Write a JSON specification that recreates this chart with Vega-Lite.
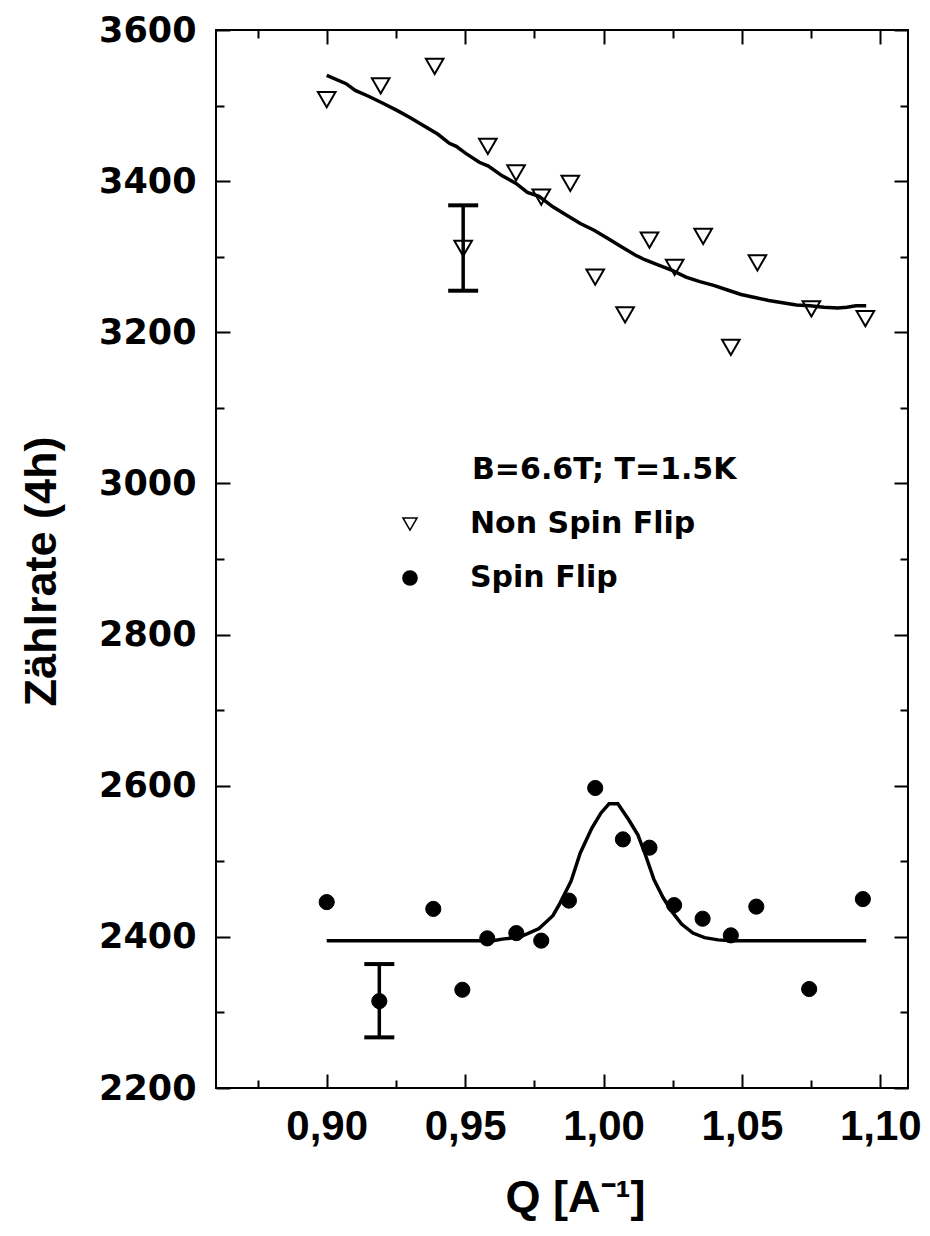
{
  "$schema": "https://vega.github.io/schema/vega-lite/v6.json",
  "width": 692,
  "height": 1058,
  "autosize": {"type": "none"},
  "padding": {"left": 216, "top": 30, "right": 22, "bottom": 148},
  "background": "white",
  "config": {
    "view": {"stroke": "black", "strokeWidth": 2},
    "axis": {
      "domain": false,
      "grid": false,
      "tickColor": "black",
      "tickWidth": 2,
      "labelColor": "black",
      "labelFontWeight": "bold",
      "titleColor": "black",
      "titleFontWeight": "bold",
      "labelFlush": false,
      "labelOverlap": false
    },
    "legend": {
      "orient": "none",
      "legendX": 256,
      "legendY": 425,
      "titleFont": "DejaVu Sans",
      "titleFontSize": 30,
      "titleFontWeight": "bold",
      "titleColor": "black",
      "titleLimit": 500,
      "titlePadding": 24,
      "labelFont": "DejaVu Sans",
      "labelFontSize": 30,
      "labelFontWeight": "bold",
      "labelColor": "black",
      "labelLimit": 500,
      "labelOffset": 45,
      "symbolOffset": -77,
      "symbolSize": 200,
      "symbolStrokeWidth": 1.5,
      "rowPadding": 24,
      "padding": 0
    }
  },
  "datasets": {
    "points": [
      {"q": 0.9000, "rate": 3508, "series": "Non Spin Flip"},
      {"q": 0.9195, "rate": 3526, "series": "Non Spin Flip"},
      {"q": 0.9390, "rate": 3552, "series": "Non Spin Flip"},
      {"q": 0.9493, "rate": 3311, "series": "Non Spin Flip"},
      {"q": 0.9582, "rate": 3446, "series": "Non Spin Flip"},
      {"q": 0.9684, "rate": 3411, "series": "Non Spin Flip"},
      {"q": 0.9775, "rate": 3379, "series": "Non Spin Flip"},
      {"q": 0.9880, "rate": 3397, "series": "Non Spin Flip"},
      {"q": 0.9970, "rate": 3273, "series": "Non Spin Flip"},
      {"q": 1.0078, "rate": 3223, "series": "Non Spin Flip"},
      {"q": 1.0166, "rate": 3322, "series": "Non Spin Flip"},
      {"q": 1.0257, "rate": 3286, "series": "Non Spin Flip"},
      {"q": 1.0360, "rate": 3327, "series": "Non Spin Flip"},
      {"q": 1.0460, "rate": 3180, "series": "Non Spin Flip"},
      {"q": 1.0556, "rate": 3292, "series": "Non Spin Flip"},
      {"q": 1.0751, "rate": 3231, "series": "Non Spin Flip"},
      {"q": 1.0946, "rate": 3218, "series": "Non Spin Flip"},
      {"q": 0.9000, "rate": 2446, "series": "Spin Flip"},
      {"q": 0.9190, "rate": 2315, "series": "Spin Flip"},
      {"q": 0.9385, "rate": 2437, "series": "Spin Flip"},
      {"q": 0.9490, "rate": 2330, "series": "Spin Flip"},
      {"q": 0.9580, "rate": 2398, "series": "Spin Flip"},
      {"q": 0.9685, "rate": 2405, "series": "Spin Flip"},
      {"q": 0.9775, "rate": 2395, "series": "Spin Flip"},
      {"q": 0.9875, "rate": 2448, "series": "Spin Flip"},
      {"q": 0.9970, "rate": 2597, "series": "Spin Flip"},
      {"q": 1.0070, "rate": 2529, "series": "Spin Flip"},
      {"q": 1.0166, "rate": 2518, "series": "Spin Flip"},
      {"q": 1.0255, "rate": 2442, "series": "Spin Flip"},
      {"q": 1.0358, "rate": 2424, "series": "Spin Flip"},
      {"q": 1.0460, "rate": 2402, "series": "Spin Flip"},
      {"q": 1.0552, "rate": 2440, "series": "Spin Flip"},
      {"q": 1.0743, "rate": 2331, "series": "Spin Flip"},
      {"q": 1.0937, "rate": 2450, "series": "Spin Flip"}
    ],
    "fits": [
      {"q": 0.9000, "rate": 3540, "series": "Non Spin Flip"},
      {"q": 0.9070, "rate": 3529, "series": "Non Spin Flip"},
      {"q": 0.9103, "rate": 3520, "series": "Non Spin Flip"},
      {"q": 0.9153, "rate": 3512, "series": "Non Spin Flip"},
      {"q": 0.9203, "rate": 3503, "series": "Non Spin Flip"},
      {"q": 0.9252, "rate": 3494, "series": "Non Spin Flip"},
      {"q": 0.9302, "rate": 3484, "series": "Non Spin Flip"},
      {"q": 0.9352, "rate": 3473, "series": "Non Spin Flip"},
      {"q": 0.9402, "rate": 3462, "series": "Non Spin Flip"},
      {"q": 0.9443, "rate": 3450, "series": "Non Spin Flip"},
      {"q": 0.9468, "rate": 3446, "series": "Non Spin Flip"},
      {"q": 0.9501, "rate": 3437, "series": "Non Spin Flip"},
      {"q": 0.9551, "rate": 3425, "series": "Non Spin Flip"},
      {"q": 0.9584, "rate": 3420, "series": "Non Spin Flip"},
      {"q": 0.9634, "rate": 3407, "series": "Non Spin Flip"},
      {"q": 0.9684, "rate": 3397, "series": "Non Spin Flip"},
      {"q": 0.9725, "rate": 3385, "series": "Non Spin Flip"},
      {"q": 0.9767, "rate": 3380, "series": "Non Spin Flip"},
      {"q": 0.9817, "rate": 3366, "series": "Non Spin Flip"},
      {"q": 0.9867, "rate": 3355, "series": "Non Spin Flip"},
      {"q": 0.9916, "rate": 3344, "series": "Non Spin Flip"},
      {"q": 0.9966, "rate": 3335, "series": "Non Spin Flip"},
      {"q": 1.0016, "rate": 3324, "series": "Non Spin Flip"},
      {"q": 1.0066, "rate": 3313, "series": "Non Spin Flip"},
      {"q": 1.0116, "rate": 3302, "series": "Non Spin Flip"},
      {"q": 1.0149, "rate": 3296, "series": "Non Spin Flip"},
      {"q": 1.0199, "rate": 3289, "series": "Non Spin Flip"},
      {"q": 1.0248, "rate": 3282, "series": "Non Spin Flip"},
      {"q": 1.0298, "rate": 3273, "series": "Non Spin Flip"},
      {"q": 1.0348, "rate": 3267, "series": "Non Spin Flip"},
      {"q": 1.0398, "rate": 3262, "series": "Non Spin Flip"},
      {"q": 1.0448, "rate": 3256, "series": "Non Spin Flip"},
      {"q": 1.0497, "rate": 3250, "series": "Non Spin Flip"},
      {"q": 1.0547, "rate": 3246, "series": "Non Spin Flip"},
      {"q": 1.0597, "rate": 3242, "series": "Non Spin Flip"},
      {"q": 1.0647, "rate": 3239, "series": "Non Spin Flip"},
      {"q": 1.0697, "rate": 3236, "series": "Non Spin Flip"},
      {"q": 1.0746, "rate": 3235, "series": "Non Spin Flip"},
      {"q": 1.0796, "rate": 3233, "series": "Non Spin Flip"},
      {"q": 1.0846, "rate": 3232, "series": "Non Spin Flip"},
      {"q": 1.0879, "rate": 3233, "series": "Non Spin Flip"},
      {"q": 1.0912, "rate": 3235, "series": "Non Spin Flip"},
      {"q": 1.0949, "rate": 3235, "series": "Non Spin Flip"},
      {"q": 0.9000, "rate": 2395, "series": "Spin Flip"},
      {"q": 0.9601, "rate": 2395, "series": "Spin Flip"},
      {"q": 0.9634, "rate": 2397, "series": "Spin Flip"},
      {"q": 0.9700, "rate": 2400, "series": "Spin Flip"},
      {"q": 0.9767, "rate": 2411, "series": "Spin Flip"},
      {"q": 0.9817, "rate": 2428, "series": "Spin Flip"},
      {"q": 0.9842, "rate": 2444, "series": "Spin Flip"},
      {"q": 0.9883, "rate": 2474, "series": "Spin Flip"},
      {"q": 0.9916, "rate": 2511, "series": "Spin Flip"},
      {"q": 0.9958, "rate": 2544, "series": "Spin Flip"},
      {"q": 0.9991, "rate": 2564, "series": "Spin Flip"},
      {"q": 1.0020, "rate": 2576, "series": "Spin Flip"},
      {"q": 1.0052, "rate": 2576, "series": "Spin Flip"},
      {"q": 1.0091, "rate": 2555, "series": "Spin Flip"},
      {"q": 1.0124, "rate": 2535, "series": "Spin Flip"},
      {"q": 1.0149, "rate": 2511, "series": "Spin Flip"},
      {"q": 1.0182, "rate": 2476, "series": "Spin Flip"},
      {"q": 1.0215, "rate": 2452, "series": "Spin Flip"},
      {"q": 1.0248, "rate": 2433, "series": "Spin Flip"},
      {"q": 1.0282, "rate": 2417, "series": "Spin Flip"},
      {"q": 1.0323, "rate": 2405, "series": "Spin Flip"},
      {"q": 1.0365, "rate": 2399, "series": "Spin Flip"},
      {"q": 1.0414, "rate": 2396, "series": "Spin Flip"},
      {"q": 1.0464, "rate": 2395, "series": "Spin Flip"},
      {"q": 1.0949, "rate": 2395, "series": "Spin Flip"}
    ],
    "errors": [
      {"q": 0.9493, "lo": 3255, "hi": 3368},
      {"q": 0.9190, "lo": 2267, "hi": 2364}
    ]
  },
  "resolve": {"axis": {"x": "independent", "y": "independent"}},
  "layer": [
    {
      "data": {"name": "fits"},
      "mark": {"type": "line", "color": "black", "strokeWidth": 3.5},
      "encoding": {
        "x": {
          "field": "q", "type": "quantitative",
          "scale": {"domain": [0.86, 1.11], "nice": false, "zero": false},
          "axis": {
            "orient": "bottom",
            "values": [0.9, 0.95, 1.0, 1.05, 1.1],
            "tickSize": -14,
            "labelPadding": 32,
            "labelExpr": "replace(format(datum.value, '.2f'), '.', ',')",
            "labelFont": "Liberation Sans",
            "labelFontSize": 42,
            "title": "Q [A⁻¹]",
            "titleFont": "Liberation Sans",
            "titleFontSize": 45,
            "titlePadding": 28,
            "titleX": 359
          }
        },
        "y": {
          "field": "rate", "type": "quantitative",
          "scale": {"domain": [2200, 3600], "nice": false, "zero": false},
          "axis": {
            "orient": "left",
            "values": [2200, 2400, 2600, 2800, 3000, 3200, 3400, 3600],
            "tickSize": -14,
            "labelPadding": 34,
            "format": "d",
            "labelFont": "DejaVu Sans",
            "labelFontSize": 35,
            "title": "Zählrate (4h)",
            "titleFont": "Liberation Sans",
            "titleFontSize": 45,
            "titlePadding": 34,
            "titleY": 541
          }
        },
        "detail": {"field": "series"}
      }
    },
    {
      "data": {"name": "errors"},
      "mark": {"type": "rule", "color": "black", "strokeWidth": 3.5},
      "encoding": {
        "x": {
          "field": "q", "type": "quantitative",
          "scale": {"domain": [0.86, 1.11], "nice": false, "zero": false},
          "axis": {"orient": "top", "values": [0.9, 0.95, 1.0, 1.05, 1.1], "tickSize": -14, "labels": false, "title": null}
        },
        "y": {
          "field": "lo", "type": "quantitative",
          "scale": {"domain": [2200, 3600], "nice": false, "zero": false},
          "axis": {"orient": "right", "values": [2200, 2400, 2600, 2800, 3000, 3200, 3400, 3600], "tickSize": -14, "labels": false, "title": null}
        },
        "y2": {"field": "hi"}
      }
    },
    {
      "data": {"name": "errors"},
      "mark": {"type": "tick", "orient": "horizontal", "color": "black", "size": 30, "thickness": 4, "opacity": 1},
      "encoding": {
        "x": {
          "field": "q", "type": "quantitative",
          "scale": {"domain": [0.86, 1.11], "nice": false, "zero": false},
          "axis": {"orient": "bottom", "values": [0.875, 0.925, 0.975, 1.025, 1.075], "tickSize": -8, "labels": false, "title": null}
        },
        "y": {
          "field": "lo", "type": "quantitative",
          "scale": {"domain": [2200, 3600], "nice": false, "zero": false},
          "axis": {"orient": "left", "values": [2300, 2500, 2700, 2900, 3100, 3300, 3500], "tickSize": -8, "labels": false, "title": null}
        }
      }
    },
    {
      "data": {"name": "errors"},
      "mark": {"type": "tick", "orient": "horizontal", "color": "black", "size": 30, "thickness": 4, "opacity": 1},
      "encoding": {
        "x": {
          "field": "q", "type": "quantitative",
          "scale": {"domain": [0.86, 1.11], "nice": false, "zero": false},
          "axis": {"orient": "top", "values": [0.875, 0.925, 0.975, 1.025, 1.075], "tickSize": -8, "labels": false, "title": null}
        },
        "y": {
          "field": "hi", "type": "quantitative",
          "scale": {"domain": [2200, 3600], "nice": false, "zero": false},
          "axis": {"orient": "right", "values": [2300, 2500, 2700, 2900, 3100, 3300, 3500], "tickSize": -8, "labels": false, "title": null}
        }
      }
    },
    {
      "data": {"name": "points"},
      "transform": [{"filter": "datum.series === 'Non Spin Flip'"}],
      "mark": {"type": "point", "filled": true, "strokeWidth": 2, "size": 310, "opacity": 1},
      "encoding": {
        "x": {"field": "q", "type": "quantitative", "scale": {"domain": [0.86, 1.11], "nice": false, "zero": false}, "axis": null},
        "y": {"field": "rate", "type": "quantitative", "scale": {"domain": [2200, 3600], "nice": false, "zero": false}, "axis": null},
        "shape": {
          "field": "series", "type": "nominal",
          "scale": {"domain": ["Non Spin Flip", "Spin Flip"], "range": ["triangle-down", "circle"]},
          "legend": {"title": "B=6.6T; T=1.5K"}
        },
        "fill": {
          "field": "series", "type": "nominal",
          "scale": {"domain": ["Non Spin Flip", "Spin Flip"], "range": ["transparent", "black"]},
          "legend": {"title": "B=6.6T; T=1.5K"}
        },
        "stroke": {
          "field": "series", "type": "nominal",
          "scale": {"domain": ["Non Spin Flip", "Spin Flip"], "range": ["black", "black"]},
          "legend": {"title": "B=6.6T; T=1.5K"}
        }
      }
    },
    {
      "data": {"name": "points"},
      "transform": [{"filter": "datum.series === 'Spin Flip'"}],
      "mark": {"type": "point", "filled": true, "strokeWidth": 1, "size": 230, "opacity": 1},
      "encoding": {
        "x": {"field": "q", "type": "quantitative", "scale": {"domain": [0.86, 1.11], "nice": false, "zero": false}, "axis": null},
        "y": {"field": "rate", "type": "quantitative", "scale": {"domain": [2200, 3600], "nice": false, "zero": false}, "axis": null},
        "shape": {"field": "series", "type": "nominal", "legend": {"title": "B=6.6T; T=1.5K"}},
        "fill": {"field": "series", "type": "nominal", "legend": {"title": "B=6.6T; T=1.5K"}},
        "stroke": {"field": "series", "type": "nominal", "legend": {"title": "B=6.6T; T=1.5K"}}
      }
    }
  ]
}
